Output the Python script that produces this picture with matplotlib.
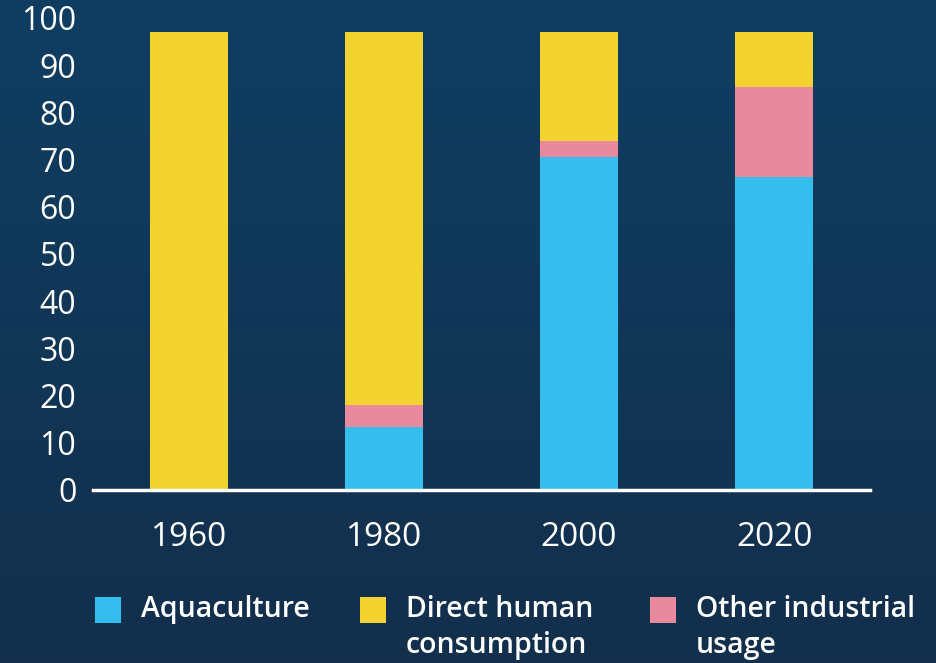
import numpy as np
import matplotlib
matplotlib.use("Agg")
import matplotlib.pyplot as plt
from matplotlib.patches import Rectangle
from matplotlib.colors import LinearSegmentedColormap

years = ["1960", "1980", "2000", "2020"]
aquaculture = [0.0, 13.3, 70.5, 66.3]
other_industrial = [0.0, 4.7, 3.4, 19.1]
direct_human = [97.0, 79.0, 23.1, 11.6]
series_names = ["Aquaculture", "Direct human\nconsumption", "Other industrial\nusage"]
colors = {"aqua": "#35bdee", "direct": "#f2d32f", "other": "#e8899d"}

W, H = 936, 663
fig = plt.figure(figsize=(W / 100, H / 100), dpi=100)

# gradient background
bg = fig.add_axes([0, 0, 1, 1], zorder=-10)
cmap = LinearSegmentedColormap.from_list("bg", ["#0f3e62", "#132f4c"])
grad = np.linspace(0, 1, 256).reshape(-1, 1)
bg.imshow(grad, aspect="auto", cmap=cmap, extent=[0, 1, 0, 1], origin="upper")
bg.set_axis_off()

left, right, bottom, top = 93, 870, 490, 18
ax = fig.add_axes([left / W, 1 - bottom / H, (right - left) / W, (bottom - top) / H])
ax.patch.set_alpha(0)

x = np.arange(len(years))
wdt = 0.4
aq = np.array(aquaculture)
oi = np.array(other_industrial)
dh = np.array(direct_human)
ax.bar(x, aq, wdt, color=colors["aqua"], linewidth=0)
ax.bar(x, oi, wdt, bottom=aq, color=colors["other"], linewidth=0)
ax.bar(x, dh, wdt, bottom=aq + oi, color=colors["direct"], linewidth=0)

ax.set_xlim(-0.49, 3.49)
ax.set_ylim(0, 100)
ax.set_yticks(range(0, 101, 10))
ax.set_xticks(x)
ax.set_xticklabels(years)
for s in ["top", "right", "left"]:
    ax.spines[s].set_visible(False)
ax.spines["bottom"].set_color("white")
ax.spines["bottom"].set_linewidth(2.5)
ax.tick_params(axis="y", length=0, pad=12, labelcolor="white", labelsize=23)
ax.tick_params(axis="x", length=0, pad=22, labelcolor="white", labelsize=24)
for t in ax.get_xticklabels() + ax.get_yticklabels():
    t.set_fontfamily("Open Sans")

# legend drawn manually
leg = [(95, colors["aqua"], series_names[0]),
       (360, colors["direct"], series_names[1]),
       (650, colors["other"], series_names[2])]
for px, col, name in leg:
    fig.patches.append(Rectangle((px / W, 1 - 623 / H), 26 / W, 26 / H,
                                 transform=fig.transFigure, color=col, linewidth=0))
    fig.text((px + 46) / W, 1 - 595 / H, name, color="white", fontsize=20.5,
             fontfamily="Open Sans", fontweight="semibold", va="top", ha="left",
             linespacing=1.3)

fig.savefig("out.png", dpi=100)
